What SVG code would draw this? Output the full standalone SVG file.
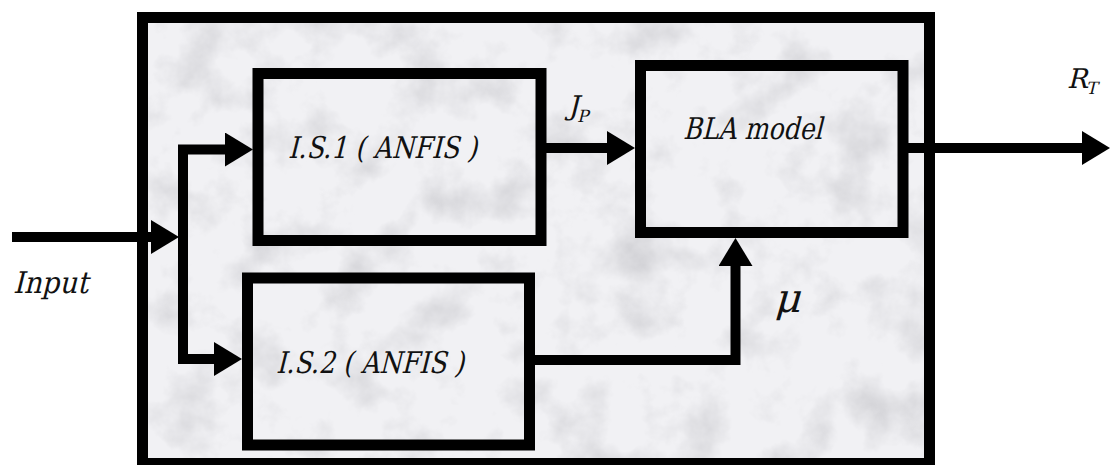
<svg xmlns="http://www.w3.org/2000/svg" width="1110" height="465" viewBox="0 0 1110 465">
  <style>
    .box { fill: none; stroke: #000; stroke-width: 11; stroke-linejoin: miter; }
    .wire { fill: none; stroke: #000; stroke-width: 10; stroke-linejoin: miter; }
    .lbl { font-family: 'DejaVu Serif', 'Liberation Serif', serif; font-style: normal; font-size: 30px; fill: #111; }
    .sym { font-family: 'DejaVu Serif', 'Liberation Serif', serif; font-style: normal; fill: #111; }
  </style>
  <defs>
    <marker id="ah" markerUnits="userSpaceOnUse" markerWidth="28" markerHeight="34" viewBox="0 0 28 34" refX="0" refY="17" orient="auto">
      <path d="M0,0 L28,17 L0,34 Z" fill="#000"/>
    </marker>
    <filter id="marble" x="0" y="0" width="100%" height="100%" filterUnits="objectBoundingBox">
      <feTurbulence type="fractalNoise" baseFrequency="0.018" numOctaves="5" seed="11" result="n"/>
      <feColorMatrix in="n" type="matrix" values="0 0 0 0 0.5  0 0 0 0 0.5  0 0 0 0 0.53  1.2 0 0 0 -0.56"/>
    </filter>
  </defs>

  <rect width="1110" height="465" fill="#fff"/>

  <g id="container">
    <rect x="142.5" y="17.5" width="787" height="446" fill="#f1f1f4"/>
    <rect x="142.5" y="17.5" width="787" height="446" fill="#000" filter="url(#marble)"/>
    <rect class="box" x="142.5" y="17.5" width="787" height="446"/>
  </g>

  <g id="is1">
    <rect class="box" x="258" y="73.5" width="283" height="167"/>
    <text class="lbl" transform="translate(288,158) skewX(-14)" textLength="189" lengthAdjust="spacingAndGlyphs">I.S.1 ( ANFIS )</text>
  </g>

  <g id="is2">
    <rect class="box" x="247.5" y="278" width="282" height="167"/>
    <text class="lbl" transform="translate(276,373) skewX(-14)" textLength="188" lengthAdjust="spacingAndGlyphs">I.S.2 ( ANFIS )</text>
  </g>

  <g id="bla">
    <rect class="box" x="640.5" y="65.5" width="262.5" height="167"/>
    <text class="lbl" transform="translate(683,139) skewX(-14)" textLength="139" lengthAdjust="spacingAndGlyphs">BLA model</text>
  </g>

  <g id="connectors">
    <path class="wire" d="M12,237 H151" marker-end="url(#ah)"/>
    <path class="wire" d="M183,237 V149.5 H225" marker-end="url(#ah)"/>
    <path class="wire" d="M183,237 V359 H214" marker-end="url(#ah)"/>
    <path class="wire" d="M546,148 H607" marker-end="url(#ah)"/>
    <path class="wire" d="M908,148 H1082" marker-end="url(#ah)"/>
    <path class="wire" d="M535,360 H735.5 V266" marker-end="url(#ah)"/>
  </g>

  <g id="labels">
    <text class="lbl" transform="translate(13,293) skewX(-14)" textLength="75" lengthAdjust="spacingAndGlyphs">Input</text>
    <text class="sym" transform="translate(568,115) skewX(-14)" font-size="27">J<tspan font-size="17" dy="7">P</tspan></text>
    <text class="sym" transform="translate(1067,88) skewX(-14)" font-size="27">R<tspan font-size="17" dy="6">T</tspan></text>
    <text class="sym" transform="translate(774,312) skewX(-16)" font-size="40">μ</text>
  </g>
</svg>
